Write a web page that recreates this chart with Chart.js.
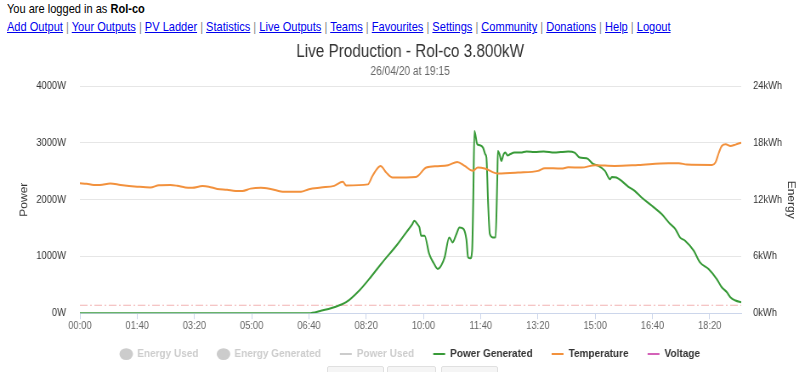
<!DOCTYPE html>
<html>
<head>
<meta charset="utf-8">
<title>Live Production - Rol-co</title>
<script src="https://cdn.jsdelivr.net/npm/chart.js@4"></script>
<style>
  body { margin: 0; width: 800px; height: 372px; overflow: hidden; background: #fff;
         font-family: "Liberation Sans", Arial, sans-serif; color: #000; }
  /* the page is rendered slightly condensed horizontally */
  .squeeze { transform: scaleX(0.85); transform-origin: 0 0; }
  #login, #menu { position: absolute; left: 7px; font-size: 13px; white-space: nowrap; }
  #login { top: 1px; }
  #menu { top: 19px; color: #888; }
  #menu a { color: #0000ee; text-decoration: underline; }
  #wrap { position: absolute; left: 0; top: 36px; width: 800px; height: 336px; overflow: hidden; }
  #liveChart { display: block; }
  .btn { position: absolute; top: 366px; height: 12px; border: 1px solid #e0e0e0; background: #f5f5f5; border-radius: 2px; }
</style>
</head>
<body>
<div id="login" class="squeeze">You are logged in as <b>Rol-co</b></div>
<div id="menu" class="squeeze"><a href="#">Add Output</a> | <a href="#">Your Outputs</a> | <a href="#">PV Ladder</a> | <a href="#">Statistics</a> | <a href="#">Live Outputs</a> | <a href="#">Teams</a> | <a href="#">Favourites</a> | <a href="#">Settings</a> | <a href="#">Community</a> | <a href="#">Donations</a> | <a href="#">Help</a> | <a href="#">Logout</a></div>
<div id="wrap"><canvas id="liveChart" class="squeeze" width="965" height="336"></canvas></div>
<div class="btn" style="left:327px;width:55px"></div>
<div class="btn" style="left:387px;width:47px"></div>
<div class="btn" style="left:441px;width:55px"></div>
<script>
// minutes since midnight -> generated power (W)
const genTimes = [0, 60, 120, 180, 240, 300, 360, 400, 420, 444, 465, 488, 505, 526, 555, 570, 580, 584, 590, 593, 596, 602, 610, 618, 625, 631, 637, 645, 651, 657, 663, 670, 675, 678, 682, 685, 687, 689, 694, 698, 704, 708, 710, 713, 716, 721, 726, 729, 730, 733, 736, 740, 743, 747, 751, 759, 770, 780, 794, 810, 829, 840, 853, 864, 873, 885, 897, 905, 917, 926, 929, 937, 946, 958, 969, 981, 999, 1016, 1031, 1040, 1048, 1057, 1072, 1083, 1098, 1112, 1121, 1130, 1136, 1145, 1155];
const genWatts = [0, 0, 0, 0, 0, 0, 0, 0, 40, 105, 193, 400, 600, 868, 1220, 1425, 1560, 1630, 1560, 1512, 1366, 1366, 1044, 880, 780, 840, 985, 1336, 1248, 1380, 1512, 1483, 1300, 985, 967, 1100, 2000, 3211, 2977, 2960, 2918, 2800, 2742, 1923, 1395, 1336, 1340, 2390, 2860, 2800, 2684, 2800, 2830, 2780, 2800, 2830, 2830, 2850, 2840, 2850, 2830, 2840, 2848, 2830, 2742, 2731, 2625, 2600, 2508, 2362, 2401, 2390, 2332, 2227, 2156, 2039, 1893, 1746, 1570, 1483, 1336, 1278, 1102, 896, 780, 605, 457, 369, 281, 223, 193];

// minutes since midnight -> temperature (°C)
const tempTimes = [0, 12, 24, 35, 53, 71, 100, 123, 138, 158, 170, 184, 196, 214, 225, 240, 257, 272, 284, 298, 316, 333, 357, 386, 400, 421, 444, 459, 465, 503, 511, 525, 535, 546, 587, 605, 625, 643, 659, 672, 686, 695, 707, 730, 765, 800, 812, 841, 853, 876, 900, 934, 975, 1028, 1046, 1060, 1104, 1110, 1116, 1121, 1128, 1136, 1145, 1155];
const tempCelsius = [22.9, 22.8, 22.6, 22.6, 22.85, 22.6, 22.3, 22.15, 22.55, 22.6, 22.45, 22.15, 22.1, 22.4, 22.3, 21.9, 21.75, 21.55, 21.55, 21.95, 22.1, 21.9, 21.4, 21.4, 21.86, 22.15, 22.44, 23.15, 22.5, 22.7, 24.2, 25.96, 24.78, 23.9, 24.02, 25.66, 25.9, 26.08, 26.66, 25.96, 25.08, 25.66, 25.5, 24.61, 24.78, 25.08, 25.55, 25.49, 25.7, 25.66, 26.08, 25.96, 26.13, 26.43, 26.43, 26.2, 26.13, 26.55, 28.3, 29.47, 29.77, 29.47, 29.7, 30.06];

// dash-dot reference line on the power axis
const limitTimes = [0, 1155];
const limitWatts = [140, 140];

const seriesNames = ["Energy Used", "Energy Generated", "Power Used", "Power Generated", "Temperature", "Voltage"];

const hhmm = m => String(Math.floor(m / 60)).padStart(2, "0") + ":" + String(m % 60).padStart(2, "0");
const pairs = (xs, ys) => xs.map((x, i) => ({ x: x, y: ys[i] }));

Chart.defaults.font.family = '"Liberation Sans", Arial, sans-serif';

// the time labels sit under a short axis box; give them room so they are not clipped
const labelRoom = {
  id: "labelRoom",
  afterLayout(chart) {
    chart.scales.x.bottom += 10;
    chart.scales.x.height += 10;
  }
};

new Chart(document.getElementById("liveChart"), {
  type: "line",
  data: {
    datasets: [
      { label: seriesNames[0], data: [], yAxisID: "energy", hidden: true, pointStyle: "circle" },
      { label: seriesNames[1], data: [], yAxisID: "energy", hidden: true, pointStyle: "circle" },
      { label: seriesNames[2], data: [], yAxisID: "power", hidden: true, pointStyle: "line" },
      { label: seriesNames[3], data: pairs(genTimes, genWatts), yAxisID: "power", borderColor: "#389a38", order: 1, pointStyle: "line" },
      { label: seriesNames[4], data: pairs(tempTimes, tempCelsius), yAxisID: "temp", borderColor: "#f2913d", order: 0, pointStyle: "line" },
      { label: seriesNames[5], data: [], yAxisID: "volt", borderColor: "#d462b8", pointStyle: "line" },
      { label: "limit", data: pairs(limitTimes, limitWatts), yAxisID: "power", borderColor: "#f2b3b3", borderWidth: 1, borderDash: [9, 3, 2, 3], order: 2 }
    ]
  },
  plugins: [labelRoom],
  options: {
    responsive: false,
    animation: false,
    layout: { padding: { top: 0, bottom: 2 } },
    elements: {
      point: { radius: 0 },
      line: { borderWidth: 2, cubicInterpolationMode: "monotone" }
    },
    plugins: {
      title: { display: true, text: "Live Production - Rol-co 3.800kW", color: "#333", font: { size: 18, weight: "normal" }, padding: { top: 5, bottom: 2 } },
      subtitle: { display: true, text: "26/04/20 at 19:15", color: "#666", font: { size: 12 }, padding: { top: 0, bottom: 7.2 } },
      tooltip: { enabled: false },
      legend: {
        position: "bottom",
        labels: {
          usePointStyle: true,
          pointStyleWidth: 14,
          boxHeight: 7,
          padding: 22.4,
          font: { size: 11.8, weight: "bold" },
          filter: item => item.text !== "limit",
          generateLabels: chart => chart.data.datasets.map((ds, i) => {
            const off = ds.hidden;
            const col = off ? "#cccccc" : ds.borderColor;
            return {
              text: ds.label, datasetIndex: i, hidden: false,
              fontColor: off ? "#cccccc" : "#333333",
              fillStyle: col, strokeStyle: col, lineWidth: 2,
              pointStyle: ds.pointStyle, lineDash: []
            };
          })
        }
      }
    },
    scales: {
      x: {
        type: "linear", min: 0, max: 1155,
        border: { color: "#ccd6eb" },
        grid: { drawOnChartArea: false, color: "#ccd6eb", tickLength: 6 },
        ticks: { stepSize: 100, includeBounds: false, autoSkip: false, maxRotation: 0, color: "#666", font: { size: 11 }, padding: 0, callback: v => hhmm(v) },
        afterFit: s => { s.height = 12.6; }
      },
      power: {
        position: "left", min: 0, max: 4000,
        border: { display: false },
        grid: { color: "#e6e6e6", drawTicks: false },
        ticks: { stepSize: 1000, color: "#333", font: { size: 11 }, padding: 16.4, callback: v => v + "W" },
        title: { display: true, text: "Power", color: "#333", font: { size: 12 }, padding: { top: 21, bottom: 0 } },
        afterFit: s => { s.width = 94; }
      },
      energy: {
        position: "right", min: 0, max: 24,
        border: { display: false },
        grid: { drawOnChartArea: false, drawTicks: false },
        ticks: { stepSize: 6, color: "#333", font: { size: 11 }, padding: 14, callback: v => v + "kWh" },
        title: { display: true, text: "Energy", color: "#333", font: { size: 12 }, padding: { top: 27, bottom: 0 } },
        afterFit: s => { s.width = 93; }
      },
      temp: { display: false, min: 0, max: 40 },
      volt: { display: false, min: 200, max: 260 }
    }
  }
});
</script>
</body>
</html>
